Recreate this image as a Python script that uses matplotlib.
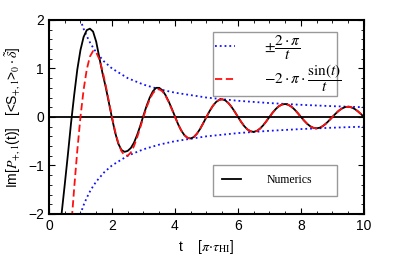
import numpy as np
import matplotlib.pyplot as plt

plt.rcParams['font.family'] = ['Liberation Sans', 'DejaVu Sans']
plt.rcParams['mathtext.fontset'] = 'stix'

## Valeurs

# numerique (noir), pas de 0.1 en t a partir de 0.3
t_num = np.round(np.arange(0.3, 10.001, 0.1), 2)
y_num = [-2.60, -2.00, -1.40, -0.78, -0.13, 0.45, 0.98, 1.38, 1.65, 1.79,
         1.82, 1.76, 1.55, 1.22, 0.90, 0.62, 0.30, -0.02, -0.32, -0.55,
         -0.68, -0.72, -0.70, -0.64, -0.53, -0.37, -0.18, 0.03, 0.23, 0.40,
         0.53, 0.60, 0.60, 0.55, 0.45, 0.32, 0.17, 0.01, -0.151, -0.280,
         -0.376, -0.432, -0.444, -0.413, -0.344, -0.245, -0.126, 0.0, 0.121, 0.226,
         0.305, 0.352, 0.364, 0.340, 0.284, 0.203, 0.105, 0.0, -0.101, -0.190,
         -0.257, -0.297, -0.308, -0.288, -0.241, -0.173, -0.090, 0.0, 0.087, 0.163,
         0.222, 0.257, 0.267, 0.250, 0.210, 0.151, 0.078, 0.0, -0.076, -0.143,
         -0.195, -0.226, -0.235, -0.221, -0.186, -0.134, -0.069, 0.0, 0.068, 0.128,
         0.174, 0.202, 0.211, 0.198, 0.167, 0.120, 0.062, 0.0]

# -2 pi sin(t)/t (rouge), pas de 0.1 a partir de 0.7
t_sin = np.round(np.arange(0.7, 10.001, 0.1), 2)
y_sin = [-2.311, -1.470, -0.687, 0.0, 0.562, 0.980, 1.245, 1.359, 1.333, 1.189,
         0.952, 0.653, 0.325, 0.0, -0.294, -0.535, -0.703, -0.793, -0.800, -0.732,
         -0.599, -0.420, -0.213, 0.0, 0.199, 0.368, 0.490, 0.559, 0.571, 0.528,
         0.437, 0.309, 0.158, 0.0, -0.151, -0.280, -0.376, -0.432, -0.444, -0.413,
         -0.344, -0.245, -0.126, 0.0, 0.121, 0.226, 0.305, 0.352, 0.364, 0.340,
         0.284, 0.203, 0.105, 0.0, -0.101, -0.190, -0.257, -0.297, -0.308, -0.288,
         -0.241, -0.173, -0.090, 0.0, 0.087, 0.163, 0.222, 0.257, 0.267, 0.250,
         0.210, 0.151, 0.078, 0.0, -0.076, -0.143, -0.195, -0.226, -0.235, -0.221,
         -0.186, -0.134, -0.069, 0.0, 0.068, 0.128, 0.174, 0.202, 0.211, 0.198,
         0.167, 0.120, 0.062, 0.0]

# enveloppe +-2 pi/t (bleu)
t_env = [0.95, 1.0, 1.1, 1.2, 1.3, 1.4, 1.5, 1.75, 2.0, 2.5, 3.0, 3.5, 4.0, 5.0,
         6.0, 7.0, 8.0, 9.0, 10.0]
y_env = [2.105, 2.0, 1.818, 1.667, 1.538, 1.429, 1.333, 1.143, 1.0, 0.8, 0.667,
         0.571, 0.5, 0.4, 0.333, 0.286, 0.25, 0.222, 0.2]

## Figure

fig = plt.figure(figsize=(4.15, 2.59), dpi=100)
ax = fig.add_axes([0.118, 0.174, 0.759, 0.749])

ax.axhline(0, color='black', lw=1.3, zorder=1)
l_env, = ax.plot(t_env, y_env, ':', color='#1010ff', lw=1.3)
ax.plot(t_env, -np.array(y_env), ':', color='#1010ff', lw=1.3)
l_num, = ax.plot(t_num, y_num, '-', color='black', lw=1.3)
l_sin, = ax.plot(t_sin, y_sin, '--', color='#ff1010', lw=1.3, dashes=(4, 2))

ax.set_xlim(0, 10)
ax.set_ylim(-2, 2)
ax.set_xticks([0, 2, 4, 6, 8, 10])
ax.set_yticks([-2, -1, 0, 1, 2])
ax.set_xticks(np.arange(0, 10.01, 0.5), minor=True)
ax.set_yticks(np.arange(-2, 2.01, 0.2), minor=True)
ax.tick_params(which='both', direction='in', top=True, right=True, labelsize=10)
ax.tick_params(which='major', length=4)
ax.tick_params(which='minor', length=2)
for s in ax.spines.values():
    s.set_linewidth(1.5)

ax.set_xlabel(r't    [$\pi\!\cdot\!\tau_{\mathrm{HI}}$]', fontsize=10, labelpad=4)
ax.set_ylabel(r'Im[$P_{+,1}$(t)]   [<S$_{+,1}$>$_0\cdot\tilde{\delta}$]',
              fontsize=10, labelpad=4)

leg1 = ax.legend([l_env, l_sin],
                 [r'$\pm\dfrac{2\cdot\pi}{t}$', r'$-2\cdot\pi\cdot\dfrac{\sin(t)}{t}$'],
                 loc='upper left', bbox_to_anchor=(0.52, 0.0, 0.394, 0.94),
                 mode='expand', borderaxespad=0, frameon=True, fancybox=False,
                 edgecolor='#808080', fontsize=11, handlelength=1.3,
                 labelspacing=0.05, borderpad=0.15, handletextpad=1.9)
leg1.get_frame().set_linewidth(1.0)
ax.add_artist(leg1)

leg2 = ax.legend([l_num], ['Numerics'], loc='upper left',
                 bbox_to_anchor=(0.52, 0.0, 0.394, 0.253), mode='expand',
                 borderaxespad=0, frameon=True, fancybox=False, edgecolor='#808080',
                 prop={'family': 'Liberation Serif', 'size': 8.5},
                 handlelength=1.6, borderpad=0.8, handletextpad=2.2)
leg2.get_frame().set_linewidth(1.0)

fig.savefig('out.png', dpi=100)
